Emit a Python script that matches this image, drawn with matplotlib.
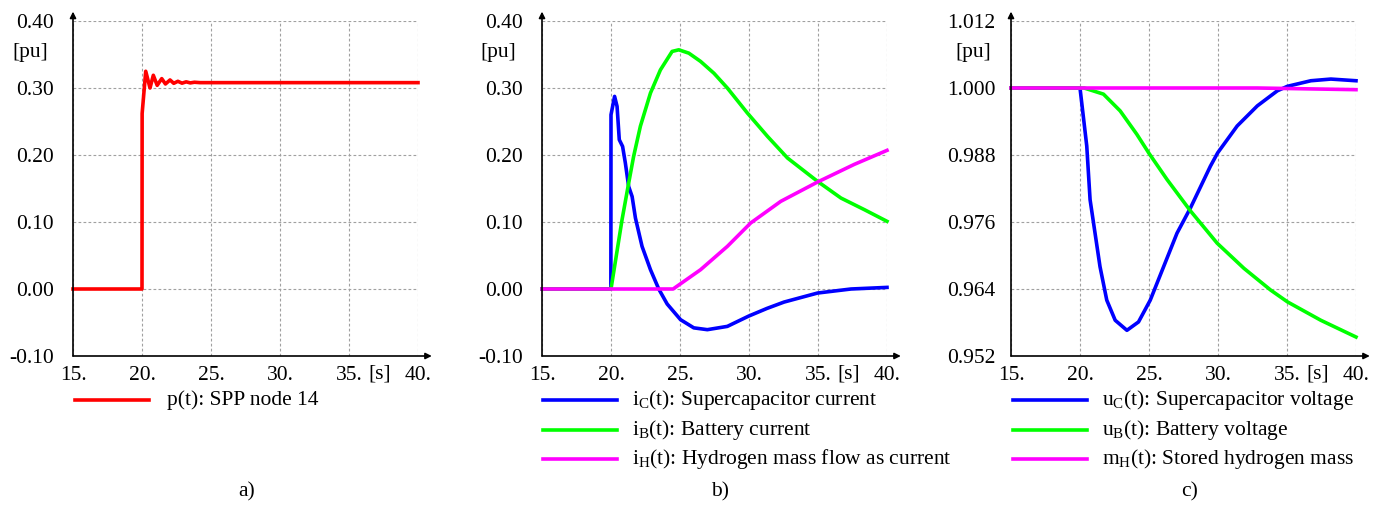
"""
    STORAGE RESPONSE PLOTS (a, b, c)
"""
import matplotlib
matplotlib.use("Agg")
from matplotlib import pyplot as plt
from matplotlib.lines import Line2D

# -- Fonts --
plt.rcParams['font.family'] = ['Liberation Serif', 'DejaVu Serif']
plt.rcParams['mathtext.fontset'] = 'custom'
plt.rcParams['mathtext.rm'] = 'Liberation Serif'
plt.rcParams['mathtext.it'] = 'Liberation Serif:italic'
plt.rcParams['axes.unicode_minus'] = False

# -- Data: panel a --
t_p = [15, 20.0, 20.01, 20.27, 20.58, 20.82, 21.1, 21.43, 21.7, 22.03, 22.3, 22.6,
       22.9, 23.2, 23.5, 23.8, 24.2, 40]
p_spp = [0, 0, 0.262, 0.325, 0.300, 0.319, 0.304, 0.314, 0.306, 0.312, 0.307, 0.310,
         0.3072, 0.3092, 0.3076, 0.3086, 0.308, 0.308]

# -- Data: panel b --
t_ic = [15, 19.99, 20.0, 20.26, 20.44, 20.6, 20.84, 21.04, 21.28, 21.53, 21.77, 22.25,
        22.86, 23.46, 24.07, 25.04, 26.0, 26.98, 28.43, 29.97, 31.3, 32.54, 34.97, 37.39, 40]
i_c = [0, 0, 0.26, 0.2875, 0.2725, 0.2228, 0.2128, 0.188, 0.153, 0.138, 0.106, 0.0636,
       0.0288, 0.0, -0.0224, -0.0458, -0.058, -0.0607, -0.0558, -0.0405, -0.029, -0.0195,
       -0.006, 0.0, 0.0024]
t_ib = [15, 20.0, 20.8, 21.28, 21.64, 22.13, 22.86, 23.58, 24.43, 24.91, 25.64, 26.49,
        27.46, 28.43, 29.88, 31.34, 32.79, 34.97, 36.66, 38.36, 40]
i_b = [0, 0, 0.1034, 0.158, 0.198, 0.243, 0.2925, 0.327, 0.3546, 0.357, 0.352, 0.3397,
       0.322, 0.30, 0.2627, 0.2278, 0.1955, 0.1606, 0.1358, 0.1184, 0.101]
t_ih = [15, 24.5, 26.49, 28.43, 30.12, 32.3, 35.0, 37.63, 40]
i_h = [0, 0, 0.0288, 0.0636, 0.0985, 0.1308, 0.16, 0.186, 0.2069]

# -- Data: panel c --
t_uc = [15, 20.0, 20.49, 20.73, 21.09, 21.45, 21.94, 22.55, 23.4, 24.24, 25.09, 26.06,
        27.03, 28.0, 29.45, 29.98, 31.39, 32.85, 34.3, 35.03, 36.73, 38.18, 40]
u_c = [1.0, 1.0, 0.9896, 0.980, 0.974, 0.968, 0.962, 0.9584, 0.9566, 0.9581, 0.962,
       0.968, 0.974, 0.9785, 0.986, 0.9884, 0.9932, 0.9968, 0.9995, 1.0003, 1.0013,
       1.0016, 1.0013]
t_ub = [15, 20.3, 21.7, 22.91, 24.12, 25.0, 26.31, 28.0, 29.94, 31.88, 33.82, 35.03,
        37.45, 40]
u_b = [1.0, 1.0, 0.9989, 0.9959, 0.9917, 0.9883, 0.9836, 0.978, 0.9722, 0.9677, 0.9638,
       0.9617, 0.9584, 0.9554]
t_mh = [15, 32.85, 40]
m_h = [1.0, 1.0, 0.9997]

# -- Ticks / labels --
x_ticks = [15, 20, 25, 30, 35, 40]
x_labels = ["15.", "20.", "25.", "30.", "35.", "40."]
y_ticks_ab = [-0.10, 0.00, 0.10, 0.20, 0.30, 0.40]
y_labels_ab = ["-0.10", "0.00", "0.10", "0.20", "0.30", "0.40"]
y_ticks_c = [0.952, 0.964, 0.976, 0.988, 1.000, 1.012]
y_labels_c = ["0.952", "0.964", "0.976", "0.988", "1.000", "1.012"]

legend_a = ["p(t): SPP node 14"]
legend_b = [r"i$_\mathrm{C}$(t): Supercapacitor current",
            r"i$_\mathrm{B}$(t): Battery current",
            r"i$_\mathrm{H}$(t): Hydrogen mass flow as current"]
legend_c = [r"u$_\mathrm{C}$(t): Supercapacitor voltage",
            r"u$_\mathrm{B}$(t): Battery voltage",
            r"m$_\mathrm{H}$(t): Stored hydrogen mass"]
captions = ["a)", "b)", "c)"]

RED, BLUE, GREEN, MAGENTA = "#ff0000", "#0000ff", "#00ff00", "#ff00ff"
W, H = 1382, 508
FS = 15.5
LW = 2.6

fig = plt.figure(figsize=(W / 100, H / 100), dpi=100)


def fx(px):
    return px / W


def fy(py):
    return 1 - py / H


def make_axes(left_px, y_ticks, y_labels, ypad, pu_dx):
    ax = fig.add_axes([fx(left_px), fy(356), 345 / W, 335 / H])
    ax.set_xlim(15, 40)
    ax.set_ylim(y_ticks[0], y_ticks[-1])
    ax.set_xticks(x_ticks)
    ax.set_xticklabels(x_labels, fontsize=FS)
    ax.set_yticks(y_ticks)
    ax.set_yticklabels(y_labels, fontsize=FS)
    ax.tick_params(axis='both', length=0)
    ax.tick_params(axis='x', pad=7)
    ax.tick_params(axis='y', pad=ypad)
    for s in ax.spines.values():
        s.set_visible(False)
    ax.grid(True, linestyle=(0, (2.5, 2)), color="#a0a0a0", linewidth=0.8)
    # -- axis arrows --
    ax.annotate("", xy=(0, 1.028), xytext=(0, 0), xycoords='axes fraction',
                arrowprops=dict(arrowstyle='-|>', color='black', lw=1.2,
                                mutation_scale=9, shrinkA=0, shrinkB=0))
    ax.annotate("", xy=(1.04, 0), xytext=(0, 0), xycoords='axes fraction',
                arrowprops=dict(arrowstyle='-|>', color='black', lw=1.2,
                                mutation_scale=9, shrinkA=0, shrinkB=0))
    ax.text(37.25, -0.055, "[s]", transform=ax.get_xaxis_transform(),
            fontsize=FS, ha='center', va='center')
    ax.text(-pu_dx / 345, 0.907, "[pu]", transform=ax.transAxes,
            fontsize=FS, ha='center', va='center')
    return ax


def add_legend(line_x0, text_x, labels, colors, cap_x, caption):
    rows = [400, 430, 459]
    for lab, col, ry in zip(labels, colors, rows):
        fig.add_artist(Line2D([fx(line_x0), fx(line_x0 + 74)], [fy(ry), fy(ry)],
                              color=col, lw=LW))
        fig.text(fx(text_x), fy(ry), lab, fontsize=FS, ha='left', va='center')
    fig.text(fx(cap_x), fy(492), caption, fontsize=FS, ha='center', va='center')


# -- a) --
ax_a = make_axes(73, y_ticks_ab, y_labels_ab, 14, 43)
ax_a.plot(t_p, p_spp, color=RED, lw=LW, clip_on=False)
add_legend(75, 167, legend_a, [RED], 247, captions[0])

# -- b) --
ax_b = make_axes(542, y_ticks_ab, y_labels_ab, 14, 44)
ax_b.plot(t_ic, i_c, color=BLUE, lw=LW, clip_on=False)
ax_b.plot(t_ib, i_b, color=GREEN, lw=LW, clip_on=False)
ax_b.plot(t_ih, i_h, color=MAGENTA, lw=LW, clip_on=False)
add_legend(543, 632, legend_b, [BLUE, GREEN, MAGENTA], 720, captions[1])

# -- c) --
ax_c = make_axes(1011, y_ticks_c, y_labels_c, 11, 38)
ax_c.plot(t_uc, u_c, color=BLUE, lw=LW, clip_on=False)
ax_c.plot(t_ub, u_b, color=GREEN, lw=LW, clip_on=False)
ax_c.plot(t_mh, m_h, color=MAGENTA, lw=LW, clip_on=False)
add_legend(1013, 1102, legend_c, [BLUE, GREEN, MAGENTA], 1190, captions[2])

fig.savefig("out.png", dpi=100)
